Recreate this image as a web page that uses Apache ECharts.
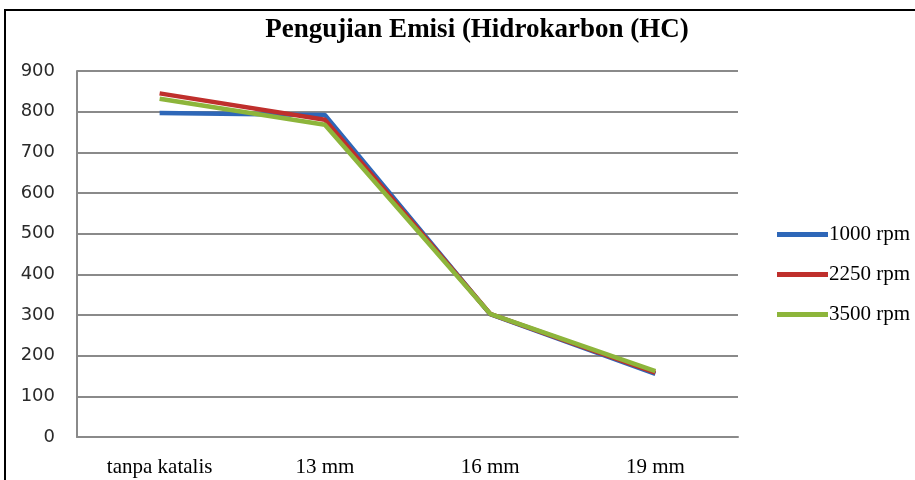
<!DOCTYPE html>
<html>
<head>
<meta charset="utf-8">
<script src="https://cdn.jsdelivr.net/npm/echarts@6/dist/echarts.min.js"></script>
<style>
  html, body { margin: 0; padding: 0; background: #fff; }
  #chart { width: 915px; height: 480px; }
</style>
</head>
<body>
<div id="chart"></div>
<script>
// HC emission test results per catalyst size
const categories = ['tanpa katalis', '13 mm', '16 mm', '19 mm'];
const rpm1000 = [797, 792, 302, 155];
const rpm2250 = [845, 780, 303, 158];
const rpm3500 = [832, 768, 303, 162];
const yTicks = { min: 0, max: 900, interval: 100 };

const chart = echarts.init(document.getElementById('chart'));

function line(name, data, color) {
  return {
    name, type: 'line', data,
    symbol: 'none',
    lineStyle: { color, width: 4.5 },
    itemStyle: { color },
    z: 3
  };
}

chart.setOption({
  animation: false,
  backgroundColor: '#fff',
  title: {
    text: 'Pengujian Emisi (Hidrokarbon (HC)',
    left: 472, top: 12, textAlign: 'center',
    textStyle: { fontFamily: 'Liberation Serif', fontWeight: 'bold', fontSize: 27, color: '#000' }
  },
  legend: {
    orient: 'vertical',
    left: 772, top: 219,
    itemWidth: 51, itemHeight: 5, itemGap: 19,
    icon: 'rect',
    textStyle: { fontFamily: 'Liberation Serif', fontSize: 21, color: '#000', padding: [0, 0, 0, -4] },
    data: ['1000 rpm', '2250 rpm', '3500 rpm']
  },
  grid: { left: 77, top: 71, width: 661, height: 366, containLabel: false },
  xAxis: {
    type: 'category', data: categories, boundaryGap: true,
    axisLine: { lineStyle: { color: '#8a8a8a', width: 2 } },
    axisTick: { show: false },
    axisLabel: { fontFamily: 'Liberation Serif', fontSize: 21, color: '#000', margin: 20 }
  },
  yAxis: {
    type: 'value', min: yTicks.min, max: yTicks.max, interval: yTicks.interval,
    axisLine: { show: true, lineStyle: { color: '#8a8a8a', width: 2 } },
    axisTick: { show: false },
    splitLine: { lineStyle: { color: '#8a8a8a', width: 2 } },
    axisLabel: { fontFamily: 'DejaVu Sans', fontSize: 18, color: '#2a2a2a', margin: 22 }
  },
  graphic: [{
    type: 'rect', silent: true, z: 10,
    shape: { x: 5, y: 10, width: 960, height: 520 },
    style: { fill: 'none', stroke: '#000', lineWidth: 2 }
  }],
  series: [
    line('1000 rpm', rpm1000, '#2e67b8'),
    line('2250 rpm', rpm2250, '#bf2f2c'),
    line('3500 rpm', rpm3500, '#8db53b')
  ]
});
</script>
</body>
</html>
